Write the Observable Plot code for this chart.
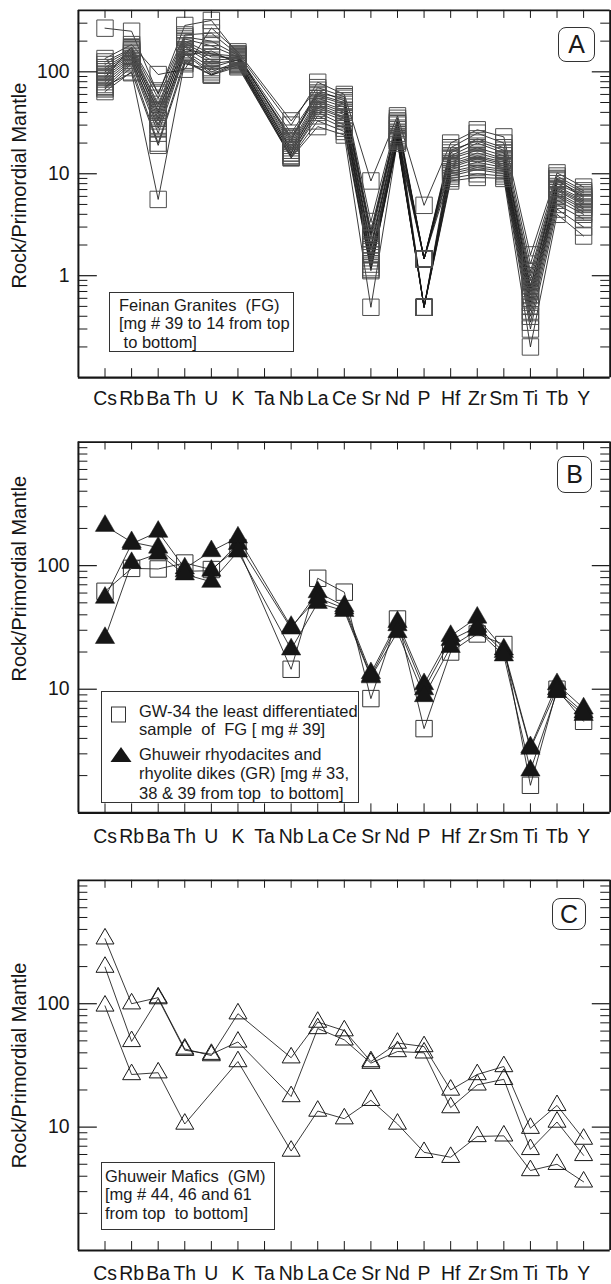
<!DOCTYPE html>
<html>
<head>
<meta charset="utf-8">
<script src="https://cdn.jsdelivr.net/npm/d3@7"></script>
<script src="https://cdn.jsdelivr.net/npm/@observablehq/plot@0.6"></script>
<style>
  html, body { margin: 0; padding: 0; background: #fff; overflow: hidden; }
  #page { position: relative; width: 611px; height: 1284px; overflow: hidden;
          font-family: "Liberation Sans", Arial, sans-serif; color: #1a1a1a; }
  .panel { position: absolute; left: 0; }
  .note { position: absolute; border: 1px solid #333; background: #fff; box-sizing: border-box; }
  .note .ln { position: absolute; white-space: pre; font-size: 16.5px; line-height: 20px; }
  .tag { position: absolute; border: 1.3px solid #333; border-radius: 8px; box-sizing: border-box;
         font-size: 25px; display: flex; align-items: center; justify-content: center; background: #fff; }
</style>
</head>
<body>
<div id="page"></div>
<script>
// Element order of the primordial-mantle normalised spider diagram
const elements = ["Cs","Rb","Ba","Th","U","K","Ta","Nb","La","Ce","Sr","Nd","P","Hf","Zr","Sm","Ti","Tb","Y"];

// Feinan Granites (FG), one row per sample, values in element order (Ta not analysed)
const feinanGranites = [
  [268,250,60,285,319,150,null,30,79,60,8.5,37,4.9,20,27,23,1.6,10.2,7.4],
  [135,185,94,106,270,157,null,33,70,57,3.4,35,1.46,18,25,20,1.3,9.5,6.8],
  [125,170,55,220,200,145,null,25,62,55,2.8,33,1.46,16,22,18,1.1,9,6.5],
  [118,165,48,210,180,140,null,23,60,50,2.5,31,1.46,15,20,16,1.0,8.5,6.2],
  [110,160,45,200,150,142,null,22,58,48,2.3,30,0.49,14.5,18,15,0.9,8,6],
  [105,155,40,190,140,138,null,20,55,45,2.0,28,1.46,14,17,14,0.8,7.5,5.6],
  [100,150,42,180,130,135,null,19,52,42,1.8,27,0.49,13,16,13.5,0.7,7.2,5.4],
  [95,145,35,175,120,130,null,18,50,40,1.9,25,1.46,12.5,15,13,0.65,7,5.2],
  [90,140,38,165,150,128,null,17,48,38,1.6,24,0.49,12,14.5,12.5,0.6,6.8,5],
  [85,135,30,160,110,132,null,17,46,36,1.5,23,1.46,11.5,14,12,0.55,6.5,4.7],
  [80,130,33,155,100,125,null,16,44,35,1.4,22,0.49,11,13,11.5,0.5,6.2,4.5],
  [75,125,28,150,95,122,null,16,42,33,1.3,21,0.49,10.5,12,11,0.45,6,4.2],
  [70,120,25,145,160,120,null,15,40,30,1.2,21,1.46,10,11.5,10.5,0.4,5.5,4],
  [68,110,20,130,93,118,null,15,37,28,1.15,20,0.49,9.5,11,10,0.35,5,3.6],
  [64,100,19,120,105,115,null,14.5,33,26,1.12,22,0.49,9,10,9.5,0.3,4.5,3],
  [72,98,5.6,125,93,112,null,14.3,29,24,0.49,21,0.49,8.5,9.2,9,0.2,4,2.45],
  [88,175,62,230,240,148,null,21,66,52,2.6,32,1.46,17,21,17,0.75,8.8,5.8]
];

// GW-34, the least differentiated FG sample
const gw34 = [62,95,94,105,93,140,null,14.5,79,61,8.4,37,4.8,20,28,23,1.67,10,5.5];

// Ghuweir rhyodacites and rhyolite dikes (GR), mg# 33, 38, 39
const ghuweirRhyodacites = [
  [210,155,140,90,91,150,null,31,61,47,13.5,35,11,27,38,21,3.4,11,7],
  [55,150,188,95,131,169,null,32,55,45,12.8,33,10,25,32,20,3.3,10,6.5],
  [26,105,125,85,74,130,null,21,50,43,12.5,29,8.8,22,30,18.8,2.2,9.5,6.2]
];

// Ghuweir Mafics (GM), mg# 44, 46, 61
const ghuweirMafics = [
  [336,100,112,43,38,83,null,36.5,71,60.5,34,48,45,20,26.7,31,9.8,15,8.0],
  [198,49.5,110,42,39,49,null,17.7,63,51,33,41,40,14.4,22,24.4,6.6,11,5.9],
  [96,26.7,27.6,10.6,null,34,null,6.4,13.5,11.7,16.5,10.6,6.25,5.7,8.4,8.5,4.45,5.0,3.6]
];

const yTitle = "Rock/Primordial Mantle";

// long-format rows; missing values are dropped so each line joins its analysed elements
function tidy(samples, group) {
  const rows = [];
  samples.forEach((s, k) => s.forEach((v, i) => {
    if (v != null) rows.push({group, sample: group + k, i, value: v});
  }));
  return rows;
}

function logTicks(lo, hi) {
  const major = [], minor = [];
  for (let e = Math.floor(Math.log10(lo)); e <= Math.ceil(Math.log10(hi)); e++) {
    const d = Math.pow(10, e);
    if (d > lo * 1.0001 && d < hi * 0.9999) major.push(d);
    for (let m = 2; m <= 9; m++) {
      const v = +(m * d).toPrecision(6);
      if (v > lo * 1.0001 && v < hi * 0.9999) minor.push(v);
    }
  }
  return {major, minor};
}

const W = 614, FRAME_L = 78.3, FRAME_R = 612.7;

function panel({series, domain, labels, top, height, frameTop, frameBottom, labelPad, titleDy}) {
  const marginTop = frameTop - top;
  const marginBottom = top + height - frameBottom;
  const marginLeft = FRAME_L, marginRight = W - FRAME_R;
  const plotW = FRAME_R - FRAME_L, plotH = frameBottom - frameTop;
  const {major, minor} = logTicks(domain[0], domain[1]);
  const idx = elements.map((_, i) => i);
  const ink = "#161616";
  const marks = [];
  for (const s of series) {
    marks.push(Plot.line(s.rows, {x: "i", y: "value", z: "sample", stroke: ink, strokeWidth: 0.85}));
  }
  for (const s of series) {
    marks.push(Plot.dot(s.rows, {x: "i", y: "value", symbol: s.symbol, r: s.r,
      fill: s.fill, stroke: s.stroke, strokeWidth: s.strokeWidth}));
  }
  marks.push(
    // left and right log ticks, pointing inward
    Plot.tickY(minor, {y: d => d, insetRight: plotW - 9.5, stroke: ink, strokeWidth: 1}),
    Plot.tickY(major, {y: d => d, insetRight: plotW - 19, stroke: ink, strokeWidth: 1.2}),
    Plot.tickY(minor, {y: d => d, insetLeft: plotW - 9.5, stroke: ink, strokeWidth: 1}),
    Plot.tickY(major, {y: d => d, insetLeft: plotW - 18, stroke: ink, strokeWidth: 1.2}),
    // element ticks on top and bottom
    Plot.tickX(idx, {x: d => d, insetBottom: plotH - 8, stroke: ink, strokeWidth: 1}),
    Plot.tickX(idx, {x: d => d, insetTop: plotH - 9, stroke: ink, strokeWidth: 1}),
    // frame
    Plot.ruleX([-1], {stroke: ink, strokeWidth: 2}),
    Plot.ruleX([elements.length], {stroke: ink, strokeWidth: 2}),
    Plot.ruleY([domain[0]], {stroke: ink, strokeWidth: 2.2}),
    Plot.ruleY([domain[1]], {stroke: ink, strokeWidth: 1.8}),
    Plot.axisX(idx, {tickFormat: i => elements[i], tickSize: 0, tickPadding: labelPad, fontSize: 19.5, label: null}),
    Plot.axisY(labels, {tickFormat: d => String(d), tickSize: 0, tickPadding: 9, fontSize: 19.5, label: null}),
    Plot.text([yTitle], {frameAnchor: "left", textAnchor: "middle", dx: -59, dy: titleDy, rotate: -90, fontSize: 20, fill: ink})
  );
  const svg = Plot.plot({
    width: W, height, marginTop, marginBottom, marginLeft, marginRight,
    x: {type: "linear", domain: [-1, elements.length], axis: null},
    y: {type: "log", domain, axis: null},
    style: {fontFamily: '"Liberation Sans", Arial, sans-serif', color: ink, background: "transparent", overflow: "visible"},
    marks
  });
  svg.classList.add("panel");
  svg.style.top = top + "px";
  return svg;
}

const page = document.getElementById("page");

page.appendChild(panel({
  series: [{rows: tidy(feinanGranites, "FG"), symbol: "square", r: 9.3, fill: "none", stroke: "#4d4d4d", strokeWidth: 1}],
  domain: [0.1, 400], labels: [1, 10, 100],
  top: 0, height: 411, frameTop: 10, frameBottom: 379, labelPad: 14, titleDy: -8.5
}));

page.appendChild(panel({
  series: [
    {rows: tidy([gw34], "GW"), symbol: "square", r: 9.3, fill: "none", stroke: "#333", strokeWidth: 1},
    {rows: tidy(ghuweirRhyodacites, "GR"), symbol: "triangle", r: 7.2, fill: "#161616", stroke: "#161616", strokeWidth: 0.5}
  ],
  domain: [1, 1000], labels: [10, 100],
  top: 411, height: 435, frameTop: 441.7, frameBottom: 814.3, labelPad: 16.5, titleDy: -49
}));

page.appendChild(panel({
  series: [{rows: tidy(ghuweirMafics, "GM"), symbol: "triangle", r: 6.7, fill: "none", stroke: "#161616", strokeWidth: 1}],
  domain: [1, 1000], labels: [10, 100],
  top: 846, height: 438, frameTop: 880, frameBottom: 1252, labelPad: 15.5, titleDy: 0
}));

// annotation boxes
function note(left, top, w, h, lines) {
  const box = document.createElement("div");
  box.className = "note";
  Object.assign(box.style, {left: left + "px", top: top + "px", width: w + "px", height: h + "px"});
  for (const [x, yc, text] of lines) {
    const ln = document.createElement("div");
    ln.className = "ln";
    ln.textContent = text;
    Object.assign(ln.style, {left: x + "px", top: (yc - 10) + "px"});
    box.appendChild(ln);
  }
  page.appendChild(box);
  return box;
}
function tag(left, top, w, h, letter) {
  const t = document.createElement("div");
  t.className = "tag";
  Object.assign(t.style, {left: left + "px", top: top + "px", width: w + "px", height: h + "px"});
  t.textContent = letter;
  page.appendChild(t);
}

note(109, 292, 185, 60, [
  [9, 12, "Feinan Granites  (FG)"],
  [9, 30, "[mg # 39 to 14 from top"],
  [9, 48.5, " to bottom]"]
]);

const nb = note(101, 691, 258, 112, [
  [37, 19, "GW-34 the least differentiated"],
  [37, 37, "sample  of  FG [ mg # 39]"],
  [37, 62, "Ghuweir rhyodacites and"],
  [37, 81, "rhyolite dikes (GR) [mg # 33,"],
  [37, 101, "38 & 39 from top  to bottom]"]
]);
const sym = document.createElementNS("http://www.w3.org/2000/svg", "svg");
sym.setAttribute("width", "36"); sym.setAttribute("height", "80");
Object.assign(sym.style, {position: "absolute", left: "0px", top: "0px"});
sym.innerHTML =
  '<rect x="9.5" y="15" width="14" height="15" fill="none" stroke="#333" stroke-width="1"/>' +
  '<path d="M19 55 L29.5 70 L8.5 70 Z" fill="#161616"/>';
nb.appendChild(sym);

note(101, 1162, 174, 68, [
  [3, 12.5, "Ghuweir Mafics  (GM)"],
  [3, 31, "[mg # 44, 46 and 61"],
  [3, 49.5, "from top  to bottom]"]
]);

tag(558, 27, 37, 35, "A");
tag(557, 456, 35, 37, "B");
tag(552, 898, 34, 32, "C");
</script>
</body>
</html>
